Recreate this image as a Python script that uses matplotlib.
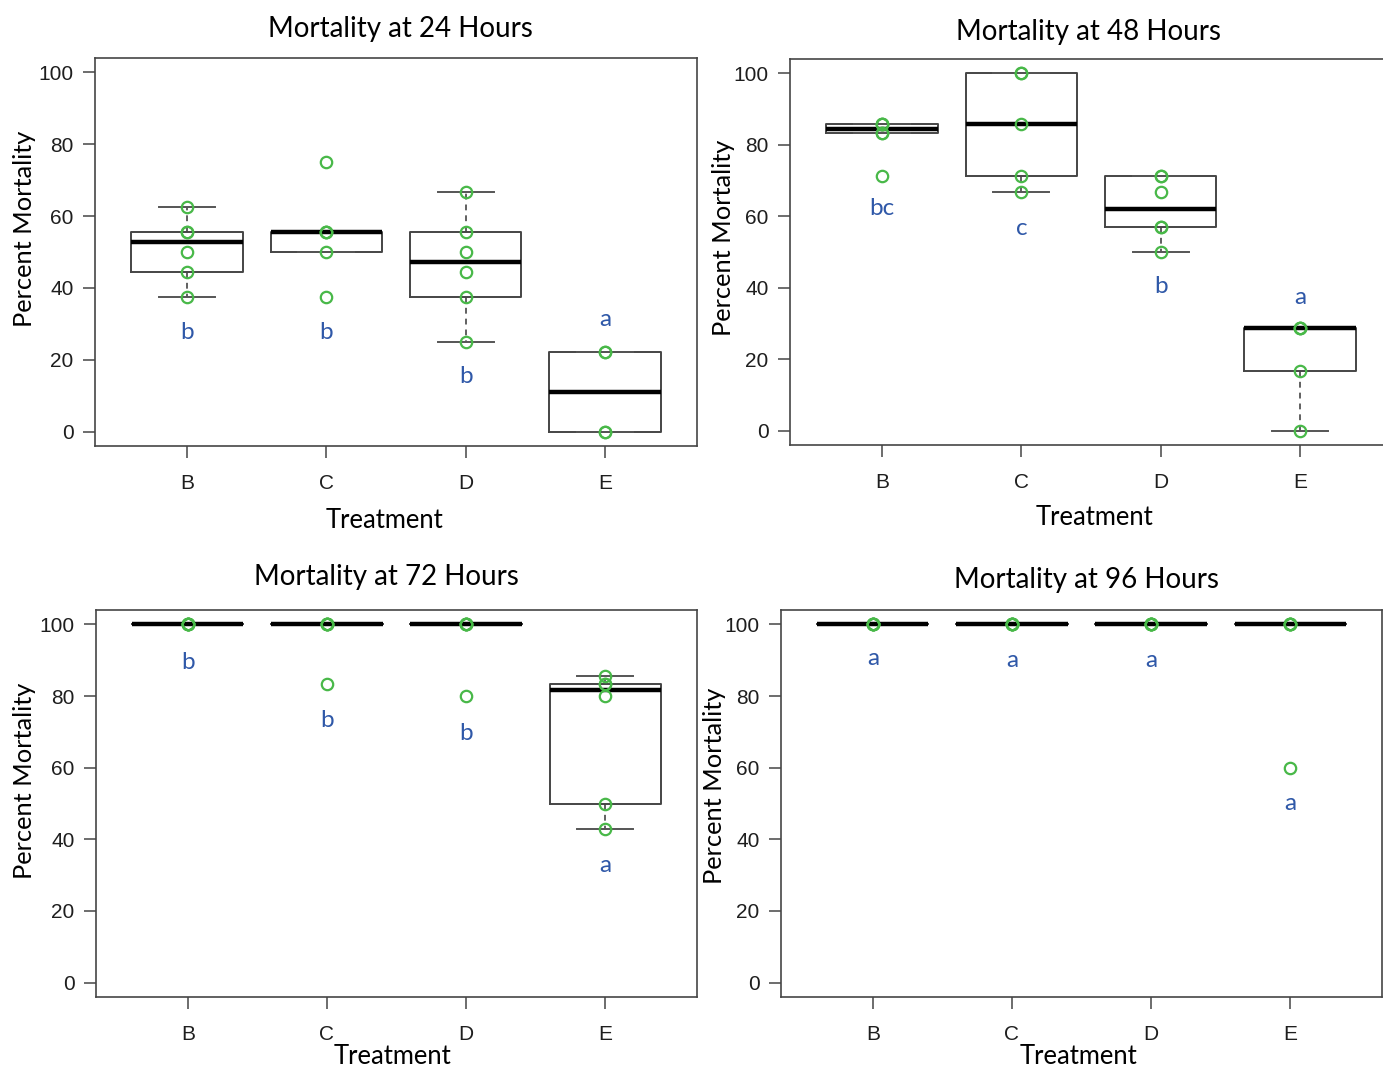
import numpy as np
import matplotlib.pyplot as plt

# treatment groups and percent mortality per replicate
groups = ['B', 'C', 'D', 'E']

mort_24 = [
    [37.5, 44.4, 50.0, 55.6, 55.6, 62.5],
    [37.5, 50.0, 55.6, 55.6, 55.6, 75.0],
    [25.0, 37.5, 44.4, 50.0, 55.6, 66.7],
    [0.0, 0.0, 22.2, 22.2],
]
mort_48 = [
    [71.4, 83.3, 83.3, 85.7, 85.7, 85.7],
    [66.7, 71.4, 85.7, 100.0, 100.0],
    [50.0, 57.1, 57.1, 66.7, 71.4, 71.4],
    [0.0, 16.7, 28.6, 28.6, 28.6],
]
mort_72 = [
    [100.0, 100.0, 100.0, 100.0, 100.0, 100.0],
    [83.3, 100.0, 100.0, 100.0, 100.0, 100.0],
    [80.0, 100.0, 100.0, 100.0, 100.0, 100.0],
    [42.9, 50.0, 80.0, 83.3, 83.3, 85.7],
]
mort_96 = [
    [100.0, 100.0, 100.0, 100.0, 100.0, 100.0],
    [100.0, 100.0, 100.0, 100.0, 100.0, 100.0],
    [100.0, 100.0, 100.0, 100.0, 100.0, 100.0],
    [60.0, 100.0, 100.0, 100.0, 100.0, 100.0],
]

# significance letters and the height they sit at
letters_24 = ['b', 'b', 'b', 'a']
letter_y_24 = [27.5, 27.5, 15.3, 31.1]
letters_48 = ['bc', 'c', 'b', 'a']
letter_y_48 = [62.3, 56.7, 40.3, 37.2]
letters_72 = ['b', 'b', 'b', 'a']
letter_y_72 = [89.3, 73.1, 69.6, 32.8]
letters_96 = ['a', 'a', 'a', 'a']
letter_y_96 = [90.4, 90.0, 90.0, 50.0]

titles = ['Mortality at 24 Hours', 'Mortality at 48 Hours',
          'Mortality at 72 Hours', 'Mortality at 96 Hours']

W, H = 1383, 1071
sans = ['Lato', 'DejaVu Sans']
tickfont = ['Liberation Sans', 'DejaVu Sans']
frame = '#454545'
green = '#48b848'
blue = '#2f58a8'


def box_stats(x):
    # R style fivenum hinges + 1.5 IQR whiskers
    x = np.sort(np.asarray(x, float))
    n = len(x)
    n4 = np.floor((n + 3) / 2) / 2
    d = np.array([1, n4, (n + 1) / 2, n + 1 - n4, n]) - 1
    fn = 0.5 * (x[np.floor(d).astype(int)] + x[np.ceil(d).astype(int)])
    iqr = fn[3] - fn[1]
    lo = x[x >= fn[1] - 1.5 * iqr].min()
    hi = x[x <= fn[3] + 1.5 * iqr].max()
    return dict(med=fn[2], q1=fn[1], q3=fn[3], whislo=lo, whishi=hi, fliers=[])


def px_axes(fig, left, top, right, bottom):
    return fig.add_axes([left / W, 1 - bottom / H, (right - left) / W, (bottom - top) / H])


fig = plt.figure(figsize=(W / 100, H / 100), dpi=100)

# panel boxes in pixels: left, top, right, bottom
boxes = [(95, 58, 697, 446), (790, 59, 1392, 445),
         (96, 610, 697, 997), (781, 610, 1382, 997)]
title_pos = [(400, 29), (1089, 32), (386, 577), (1087, 580)]
ylab_pos = [(25, 229), (724, 238), (25, 781), (715, 786)]
xlab_pos = [(384, 520), (1094, 517), (393, 1057), (1079, 1057)]

all_data = [mort_24, mort_48, mort_72, mort_96]
all_letters = [letters_24, letters_48, letters_72, letters_96]
all_letter_y = [letter_y_24, letter_y_48, letter_y_72, letter_y_96]

texts = []
pos = np.arange(1, len(groups) + 1)

for k in range(4):
    ax = px_axes(fig, *boxes[k])
    data = all_data[k]

    ax.bxp([box_stats(v) for v in data], positions=pos, widths=0.8, capwidths=0.4,
           showfliers=False, manage_ticks=False,
           boxprops=dict(color=frame, lw=1.4),
           medianprops=dict(color='black', lw=3.2, solid_capstyle='butt'),
           whiskerprops=dict(color=frame, lw=1.2, linestyle=(0, (3.5, 3))),
           capprops=dict(color='#555555', lw=1.4))

    for i, v in enumerate(data):
        ax.plot(np.full(len(v), pos[i]), v, 'o', ms=8.2, mfc='none', mec=green,
                mew=1.6, zorder=4)
        ax.text(pos[i], all_letter_y[k][i], all_letters[k][i], color=blue,
                ha='center', va='center', fontsize=17.5, family=sans)

    ax.set_xlim(0.34, 4.66)
    ax.set_ylim(-4, 104)
    ax.set_yticks([0, 20, 40, 60, 80, 100])
    ax.set_xticks(pos, groups)
    ax.tick_params(axis='both', length=8.5, width=1.1, color=frame,
                   labelsize=15, labelcolor='#1e1e1e')
    ax.tick_params(axis='y', pad=7)
    ax.tick_params(axis='x', pad=12)
    for lab in ax.get_xticklabels() + ax.get_yticklabels():
        lab.set_family(tickfont)
    for s in ax.spines.values():
        s.set_color(frame)
        s.set_linewidth(1.2)

    tx, ty = title_pos[k]
    texts.append((fig.text(tx / W, 1 - ty / H, titles[k], ha='center', va='center',
                           fontsize=18, family=sans), 264, False))
    yx, yy = ylab_pos[k]
    texts.append((fig.text(yx / W, 1 - yy / H, 'Percent Mortality', rotation=90,
                           ha='center', va='center', fontsize=16, family=sans), 197, True))
    xx, xy = xlab_pos[k]
    texts.append((fig.text(xx / W, 1 - xy / H, 'Treatment', ha='center', va='center',
                           fontsize=16, family=sans), 119, False))

# scale the stand-in font so each label spans the same length as the original
fig.canvas.draw()
r = fig.canvas.get_renderer()
for t, target, vertical in texts:
    bb = t.get_window_extent(renderer=r)
    cur = bb.height if vertical else bb.width
    t.set_fontsize(t.get_fontsize() * target / cur)

fig.savefig('out.png', dpi=100)
